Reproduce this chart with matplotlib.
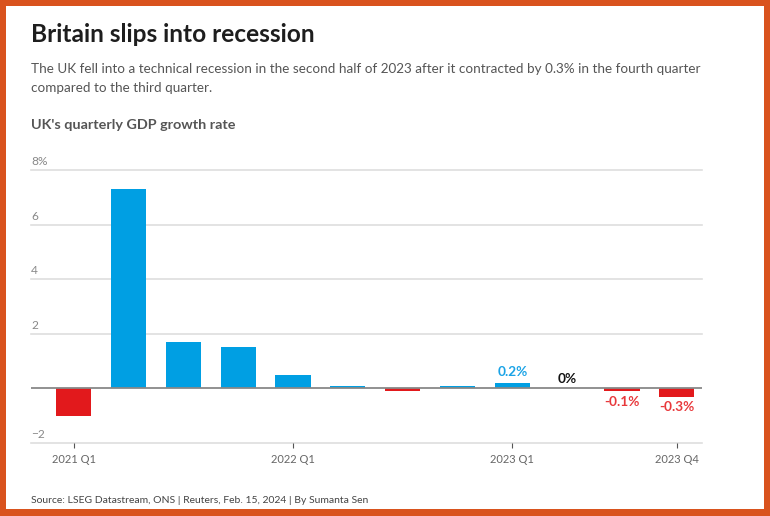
import matplotlib
matplotlib.use("Agg")
import matplotlib.pyplot as plt
from matplotlib.patches import Rectangle

# data
quarters = ["2021 Q1", "2021 Q2", "2021 Q3", "2021 Q4",
            "2022 Q1", "2022 Q2", "2022 Q3", "2022 Q4",
            "2023 Q1", "2023 Q2", "2023 Q3", "2023 Q4"]
growth = [-1.0, 7.3, 1.7, 1.5, 0.5, 0.1, -0.1, 0.1, 0.2, 0.0, -0.1, -0.3]
tick_quarters = ["2021 Q1", "2022 Q1", "2023 Q1", "2023 Q4"]
labelled_quarters = ["2023 Q1", "2023 Q2", "2023 Q3", "2023 Q4"]
y_ticks = [-2, 0, 2, 4, 6, 8]
y_tick_labels = ["\u22122", "", "2", "4", "6", "8%"]

BLUE = "#009fe3"
RED = "#e2191c"
ORANGE = "#d9531e"
W, H = 770, 516

plt.rcParams["font.family"] = ["Lato", "DejaVu Sans"]


def fx(px):
    return px / W


def fy(py):
    # py measured from the top of the image
    return 1 - py / H


fig = plt.figure(figsize=(W / 100, H / 100), dpi=100)
fig.patch.set_facecolor(ORANGE)
fig.patches.append(Rectangle((fx(6), fy(509)), fx(764 - 6), (509 - 6) / H,
                             transform=fig.transFigure, facecolor="white",
                             edgecolor="none", zorder=0))

fig.text(fx(31), fy(42), "Britain slips into recession", fontsize=17.6,
         fontweight="bold", color="#1e1e1e", va="baseline")
fig.text(fx(31), fy(73), "The UK fell into a technical recession in the second half of 2023 "
         "after it contracted by 0.3% in the fourth quarter", fontsize=9.7,
         color="#555555", va="baseline")
fig.text(fx(31), fy(92), "compared to the third quarter.", fontsize=9.7,
         color="#555555", va="baseline")
fig.text(fx(31), fy(129), "UK's quarterly GDP growth rate", fontsize=10.4,
         fontweight="bold", color="#555555", va="baseline")
fig.text(fx(31), fy(503), "Source: LSEG Datastream, ONS | Reuters, Feb. 15, 2024 | By Sumanta Sen",
         fontsize=7.5, color="#444444", va="baseline")

ax = fig.add_axes([fx(31), fy(443), fx(702 - 31), (443 - 170) / H])
ax.set_zorder(2)
ax.set_facecolor("none")
x = list(range(len(quarters)))
colors = [BLUE if v >= 0 else RED for v in growth]
ax.bar(x, growth, width=0.64, color=colors, zorder=2)

ax.set_xlim(-0.78, 11.46)
ax.set_ylim(-2, 8)
for s in ax.spines.values():
    s.set_visible(False)

for v, lab in zip(y_ticks, y_tick_labels):
    if v != 0:
        ax.axhline(v, color="#dedede", lw=1.2, zorder=1, clip_on=False)
    if lab:
        ax.annotate(lab, xy=(0, v), xycoords=ax.get_yaxis_transform(),
                    xytext=(0, 3.5), textcoords="offset points",
                    fontsize=8.6, color="#888888", va="baseline", ha="left")
ax.axhline(0, color="#888888", lw=1.3, zorder=3)

ax.set_yticks([])
ax.set_xticks([quarters.index(q) for q in tick_quarters])
ax.set_xticklabels(tick_quarters, fontsize=8.0, color="#666666")
ax.tick_params(axis="x", length=3.5, width=0.8, color="#555555", pad=4.5)

for q in labelled_quarters:
    i = quarters.index(q)
    v = growth[i]
    txt = f"{v:g}%"
    if v > 0:
        c, dy, va = "#1aa3e6", 3.5, "bottom"
    elif v < 0:
        c, dy, va = "#e8383b", -3.5, "top"
    else:
        c, dy, va = "#111111", 2.5, "bottom"
    ax.annotate(txt, xy=(i, v), xytext=(0, dy), textcoords="offset points",
                ha="center", va=va, fontsize=9.8, fontweight="bold", color=c)

fig.savefig("out.png", dpi=100, facecolor=ORANGE)
